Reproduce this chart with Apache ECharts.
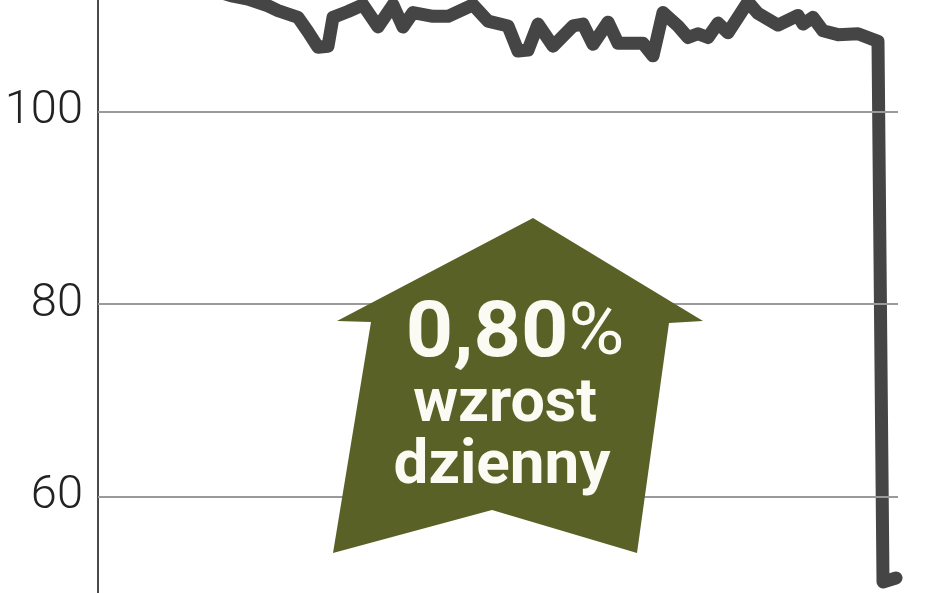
<!DOCTYPE html>
<html>
<head>
<meta charset="utf-8">
<script src="https://cdn.jsdelivr.net/npm/echarts@6/dist/echarts.min.js"></script>
<style>
html,body{margin:0;padding:0;background:#fff;}
#chart{width:948px;height:593px;}
</style>
</head>
<body>
<div id="chart"></div>
<script>
// Day index (trading days) and index values
const days = [18, 23, 27, 30, 34, 36, 40, 42, 44, 46, 47, 50, 53, 56, 59, 61, 63, 67, 70, 75, 78, 82, 84, 86, 88, 91, 95, 97, 99, 102, 104, 109, 111, 113, 116, 118, 120, 122, 124, 126, 130, 132, 136, 140, 141, 143, 145, 148, 152, 156, 157, 159.6];
const values = [113.7, 112.6, 112.0, 111.7, 111.0, 110.5, 109.8, 108.3, 106.7, 106.8, 109.8, 110.4, 111.1, 108.8, 111.1, 108.8, 110.3, 109.9, 109.9, 111.1, 109.4, 108.9, 106.3, 106.4, 109.1, 106.8, 108.9, 109.1, 107.0, 109.3, 107.1, 107.1, 105.8, 110.3, 108.9, 107.7, 108.1, 107.7, 109.2, 108.2, 111.4, 110.2, 109.0, 110.0, 109.1, 109.8, 108.4, 108.0, 108.1, 107.3, 51.15, 51.56];
const yTicks = [60, 80, 100];
const badgeLines = ['0,80', '%', 'wzrost', 'dzienny'];

const seriesData = days.map((d, i) => [d, values[i]]);

const chart = echarts.init(document.getElementById('chart'));
chart.setOption({
  animation: false,
  backgroundColor: '#ffffff',
  grid: { left: 98, right: 50, top: 0, bottom: 0 },
  xAxis: {
    type: 'value', min: 0, max: 160,
    axisLine: { show: false }, axisTick: { show: false },
    axisLabel: { show: false }, splitLine: { show: false }
  },
  yAxis: {
    type: 'value', min: 50, max: 111.6,
    interval: 10,
    axisLine: { show: true, lineStyle: { color: '#4a4a4a', width: 2 } },
    axisTick: { show: false },
    axisLabel: {
      margin: 15,
      color: '#222',
      fontFamily: 'Roboto',
      fontWeight: 300,
      fontSize: 47,
      formatter: v => (yTicks.indexOf(v) >= 0 ? String(v) : '')
    },
    splitLine: { show: false }
  },
  series: [
    {
      type: 'line',
      data: [],
      markLine: {
        silent: true,
        symbol: 'none',
        label: { show: false },
        lineStyle: { color: '#9a9a9a', width: 2, type: 'solid' },
        data: yTicks.map(v => ({ yAxis: v }))
      },
      z: 1
    },
    {
      type: 'line',
      data: seriesData,
      showSymbol: false,
      symbol: 'none',
      clip: true,
      z: 3,
      lineStyle: { color: '#454545', width: 13, cap: 'round', join: 'round' }
    }
  ],
  graphic: [
    {
      type: 'polygon',
      z: 10,
      shape: {
        points: [[533, 218], [703, 321], [669, 323], [637, 553], [492, 510], [333, 553], [371, 322], [337, 321]]
      },
      style: { fill: '#5a6126' }
    },
    {
      type: 'text', z: 11,
      x: 515, y: 336,
      scaleX: 1.06, originX: 0, originY: 0,
      style: {
        text: '{a|' + badgeLines[0] + '}{b|' + badgeLines[1] + '}',
        align: 'center', verticalAlign: 'middle',
        rich: {
          a: { fontFamily: 'Roboto', fontWeight: 700, fontSize: 78, fill: '#fbfbf3' },
          b: { fontFamily: 'Roboto', fontWeight: 400, fontSize: 72, fill: '#fbfbf3' }
        }
      }
    },
    {
      type: 'text', z: 11,
      x: 505, y: 406,
      style: {
        text: badgeLines[2], align: 'center', verticalAlign: 'middle',
        fontFamily: 'Roboto', fontWeight: 700, fontSize: 61, fill: '#fbfbf3'
      }
    },
    {
      type: 'text', z: 11,
      x: 502, y: 467,
      style: {
        text: badgeLines[3], align: 'center', verticalAlign: 'middle',
        fontFamily: 'Roboto', fontWeight: 700, fontSize: 62, fill: '#fbfbf3'
      }
    }
  ]
});
</script>
</body>
</html>
